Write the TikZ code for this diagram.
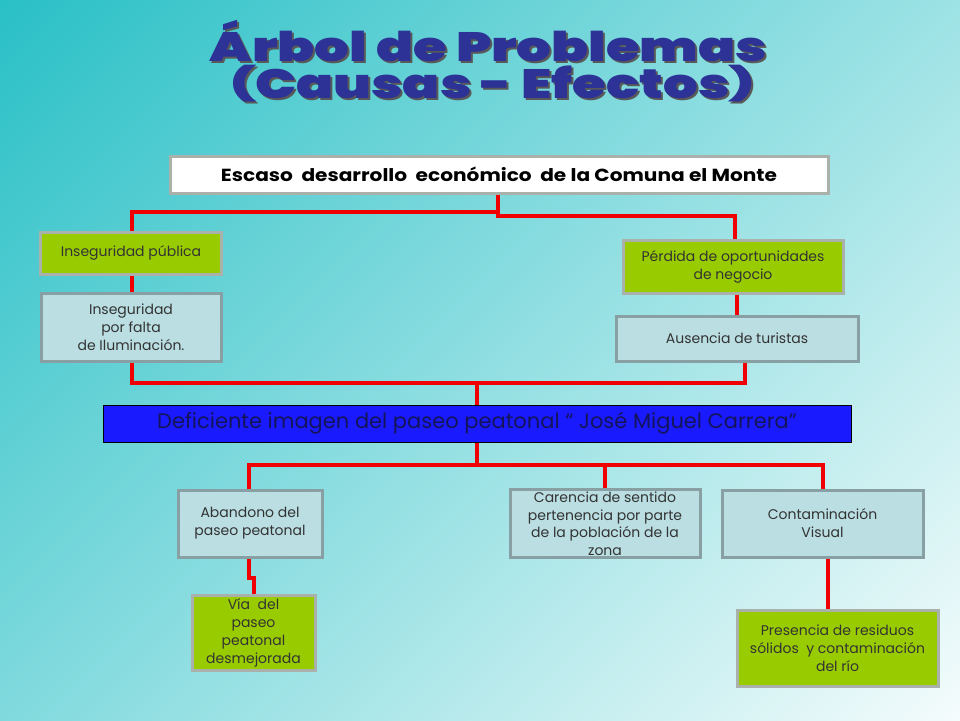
\documentclass[tikz,border=0pt]{standalone}
\usepackage{fontspec}
\usepackage{graphicx}
\setmainfont{Poppins}
\newfontfamily\titlefont{Poppins Black}
\usetikzlibrary{calc}
\definecolor{bgA}{RGB}{40,192,198}
\definecolor{bgB}{RGB}{245,252,252}
\definecolor{gfill}{RGB}{153,204,0}
\definecolor{gline}{RGB}{170,176,170}
\definecolor{lfill}{RGB}{186,222,226}
\definecolor{lline}{RGB}{136,160,164}
\definecolor{redl}{RGB}{240,0,0}
\definecolor{ttl}{RGB}{44,50,150}
\definecolor{bluebar}{RGB}{26,26,255}
\definecolor{navytext}{RGB}{20,20,90}
\newcommand{\shortparen}[1]{\raisebox{0.08em}{\scalebox{1}[0.8]{#1}}}
\tikzset{
  base/.style={inner sep=2pt, align=center, font=\fontsize{14}{18}\selectfont, text=black!80},
  gbox/.style={base, fill=gfill, draw=gline, line width=3pt},
  lbox/.style={base, fill=lfill, draw=lline, line width=3pt},
  conn/.style={draw=redl, line width=4pt},
  ttext/.style={font=\titlefont\fontsize{41}{41}\selectfont, anchor=base, inner sep=0pt}
}
\begin{document}
\begin{tikzpicture}[x=1pt,y=-1pt]
\useasboundingbox (0,0) rectangle (960,720);
\begin{scope}
\clip (0,0) rectangle (960,720);
\shade[top color=bgA, bottom color=bgB, shading angle=45] (-120,-240) rectangle (1080,960);
\end{scope}
% title
\node[ttext, text=black!65] (t1s) at (490.5,63) {\scalebox{1.33}[1]{Árbol de Problemas}};
\node[ttext, text=ttl] (t1) at (488.5,61) {\scalebox{1.33}[1]{Árbol de Problemas}};
\node[ttext, text=black!65] (t2s) at (494.5,100) {\scalebox{1.33}[1]{\shortparen{(}Causas - Efectos\shortparen{)}}};
\node[ttext, text=ttl] (t2) at (492.5,98) {\scalebox{1.33}[1]{\shortparen{(}Causas - Efectos\shortparen{)}}};
% nodes
\node[base, fill=white, draw=gline, line width=3pt, minimum width=658pt, minimum height=37pt,
      font=\bfseries\fontsize{17.5}{20}\selectfont, text=black] (top) at (499,174.5)
      {\scalebox{1.15}[1]{Escaso\ \ desarrollo\ \ económico\ \ de la Comuna el Monte}};
\node[gbox, minimum width=181pt, minimum height=42pt] (ip) at (131,253) {Inseguridad pública};
\node[lbox, minimum width=180pt, minimum height=68pt] (il) at (131,327) {Inseguridad\\por falta\\de Iluminación.};
\node[gbox, minimum width=220pt, minimum height=53pt] (po) at (733,266.5) {Pérdida de oportunidades\\de negocio};
\node[lbox, minimum width=242pt, minimum height=45pt] (at) at (737,338.5) {Ausencia de turistas};
\node[base, fill=bluebar, draw=black, line width=1pt, minimum width=748pt, minimum height=37pt,
      font=\fontsize{21}{22}\selectfont, text=navytext] (blue) at (477,423.5)
      {Deficiente imagen del paseo peatonal “ José Miguel Carrera”};
\node[lbox, minimum width=144pt, minimum height=67pt] (ab) at (250,523.5) {Abandono del\\paseo peatonal};
\node[lbox, minimum width=190pt, minimum height=67pt, font=\fontsize{14}{17.5}\selectfont] (ca) at (605,523.5) {Carencia de sentido\\pertenencia por parte\\de la población de la\\zona};
\node[lbox, minimum width=201pt, minimum height=67pt] (co) at (822.5,523.5) {Contaminación\\Visual};
\node[gbox, minimum width=123pt, minimum height=75pt] (via) at (253.5,632.5) {Vía\ \ del\\paseo\\peatonal\\desmejorada};
\node[gbox, minimum width=201pt, minimum height=76pt] (pr) at (837.5,648) {Presencia de residuos\\sólidos\ \ y contaminación\\del río};
% connectors
\coordinate (jt) at ($(top.south)+(-1,21)$);
\coordinate (jb) at (477,383);
\coordinate (jl) at (477,465);
\coordinate (cx) at ($(co.south)+(5.5,0)$);
\draw[conn] (top.south -| jt) -- (jt |- 0,212) -| ([xshift=1pt]ip.north);
\draw[conn] (top.south -| jt) -- (jt |- 0,216) -| ([xshift=2pt]po.north);
\draw[conn] ([xshift=1pt]ip.south) -- ([xshift=1pt]il.north);
\draw[conn] ([xshift=1pt]il.south) |- (jb) -- (blue.north);
\draw[conn] ([xshift=8pt]at.south) |- (jb);
\draw[conn] ([xshift=4pt]po.south) -- ([xshift=0pt]at.north);
\draw[conn] (blue.south) -- (jl);
\draw[conn] ([xshift=-1pt]ab.north) |- (jl) -| (co.north);
\draw[conn] (ca.north) -- (ca.north |- jl);
\draw[conn] ([xshift=-1pt]ab.south) -- ++(0,19) -| (via.north);
\draw[conn] (cx) -- (pr.north -| cx);
\end{tikzpicture}
\end{document}
